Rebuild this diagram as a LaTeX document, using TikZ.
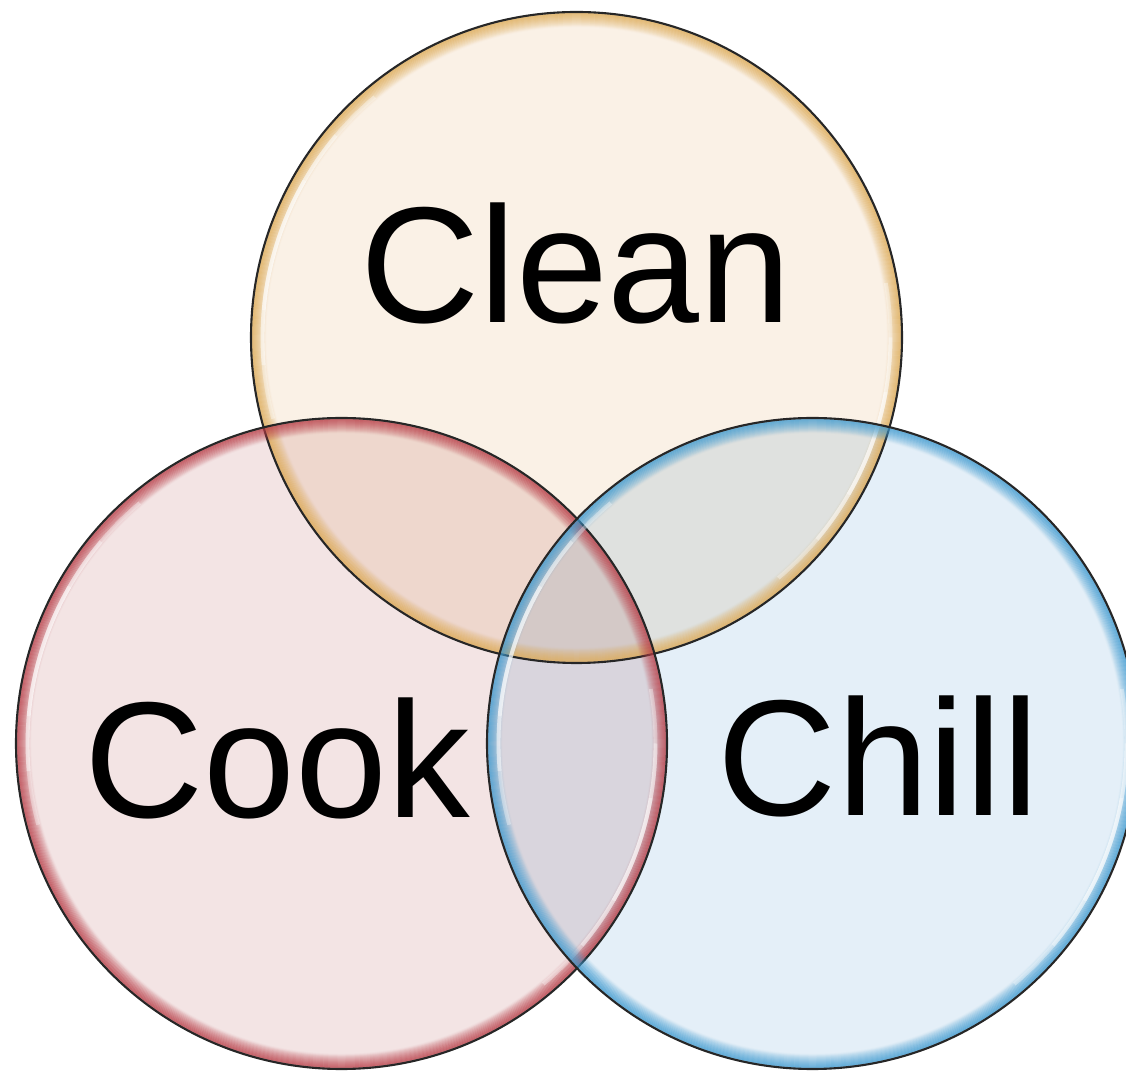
\documentclass[tikz,border=0pt]{standalone}
\usepackage{fontspec}
\setmainfont{Liberation Sans}
\definecolor{cleanfill}{HTML}{FAF1E6}
\definecolor{cleanrim}{HTML}{DDAA55}
\definecolor{cookfill}{HTML}{F3E4E4}
\definecolor{cookrim}{HTML}{B83C46}
\definecolor{chillfill}{HTML}{E4EFF8}
\definecolor{chillrim}{HTML}{3E9AD0}

\begin{document}
\begin{tikzpicture}[font=\fontsize{47}{56}\selectfont,word/.style={anchor=base,inner sep=0pt}]
  \useasboundingbox (0,0) rectangle (11.26,10.71);
  \clip (0,0) rectangle (11.26,10.71);
  \coordinate (cleanc) at (5.765,7.335);
  \coordinate (cookc) at (3.415,3.275);
  \coordinate (chillc) at (8.125,3.275);
  % fills
  \foreach \p/\f in {cleanc/cleanfill,cookc/cookfill,chillc/chillfill}{\fill[\f,blend mode=multiply] (\p) circle (3.255);}
  % rims
  \foreach \p/\r in {cleanc/cleanrim,cookc/cookrim,chillc/chillrim}{
   \foreach \k in {0,...,13}{\draw[\r,draw opacity={0.45*(1-\k/14)},line width=0.7pt] (\p) circle ({3.245-\k*0.01});}
   \foreach \a/\b in {130/195,140/185,150/175,-50/10,-40/0,-30/-10}{\draw[white,opacity=0.35,line width=1.1pt] (\p) ++(\a:3.14) arc[start angle=\a,end angle=\b,radius=3.14];}
   \draw[black!85,line width=0.6pt] (\p) circle (3.255);
  }
  % labels
  \node[word] (clean) at (5.76,7.48) {Clean};
  \node[word] (cook) at (2.775,2.53) {Cook};
  \node[word] (chill) at (8.785,2.55) {Chill};
\end{tikzpicture}
\end{document}
